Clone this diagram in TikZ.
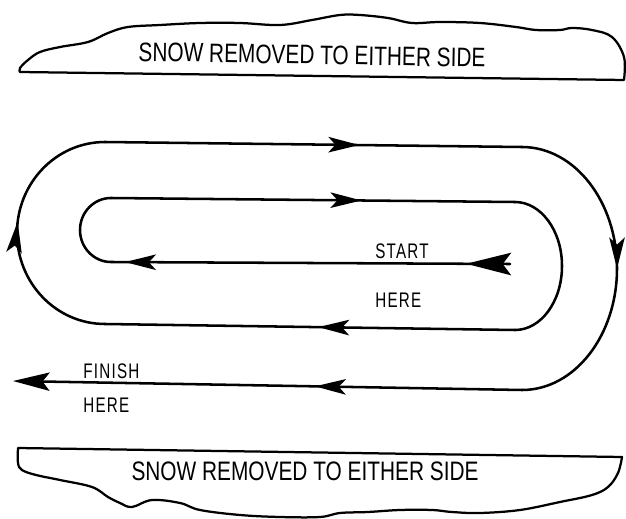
\documentclass[tikz,border=0pt]{standalone}
\usepackage{fontspec}
\setmainfont{Liberation Sans}
\newfontfamily\snowfont{Liberation Sans}[FakeStretch=0.78]
\newfontfamily\signfont{Liberation Sans}[FakeStretch=0.72,LetterSpace=6]
\usetikzlibrary{arrows.meta,decorations.markings}

\tikzset{
  route/.style={line width=1.8pt, line cap=round},
  pile/.style={line width=1.6pt, line join=round},
  flow/.style={postaction={decorate, decoration={markings,
      mark=at position #1 with {\arrow{Stealth[length=22pt,width=11pt,inset=5pt]}}}}},
  startflow/.style={postaction={decorate, decoration={markings,
      mark=at position #1 with {\arrow{Stealth[length=32pt,width=16pt,inset=6pt]}}}}},
  sign/.style={inner sep=0pt, anchor=west, font=\signfont\fontsize{15pt}{15pt}\selectfont},
  snowlabel/.style={inner sep=0pt, font=\snowfont\fontsize{19pt}{19pt}\selectfont},
}

\begin{document}
\begin{tikzpicture}[x=0.025cm, y=0.025cm]
\useasboundingbox (0,0) rectangle (626,-519);

% snow pile, upper side
\draw [pile] (20,-72) -- (624,-80) -- plot [smooth, tension=0.6] coordinates {
    (624,-80) (624,-57) (612,-37) (592,-30) (572,-28) (560,-30) (536,-30)
    (516,-27) (480,-23) (440,-22) (412,-23) (388,-18) (360,-15) (340,-15)
    (312,-20) (280,-25) (240,-23) (200,-23) (160,-25) (128,-27) (108,-33)
    (88,-42) (60,-47) (40,-52) (28,-60) (20,-68) (20,-72)} -- cycle;
\node [snowlabel, rotate=-1] (snowtop) at (312,-55) {SNOW REMOVED TO EITHER SIDE};

% snow pile, lower side
\draw [pile] (18,-448) -- (622,-457) -- plot [smooth, tension=0.6] coordinates {
    (622,-457) (618,-473) (608,-487) (592,-495) (560,-502) (520,-510)
    (480,-513) (452,-512) (432,-510) (400,-510) (368,-512) (340,-513)
    (320,-517) (280,-517) (240,-515) (200,-510) (180,-503) (152,-500)
    (132,-507) (120,-503) (108,-497) (92,-487) (60,-480) (36,-475)
    (22,-470) (18,-463) (18,-448)} -- cycle;
\node [snowlabel] (snowbot) at (305,-471) {SNOW REMOVED TO EITHER SIDE};

% inner loop
\draw [route, startflow=0.11, flow=0.965] (510,-264) -- (111,-262);
\draw [route] (111,-262) arc [start angle=270, end angle=90, x radius=31, y radius=32];
\draw [route, flow=0.62] (111,-198) -- (515,-202);
\draw [route] (515,-202) arc [start angle=90, end angle=-90, x radius=47, y radius=64];

% outer loop
\draw [route, flow=0.48] (515,-330) -- (105,-324);
\draw [route, flow=0.54] (105,-324) arc [start angle=270, end angle=90, x radius=88, y radius=91];
\draw [route, flow=0.61] (105,-142) -- (522,-147);
\draw [route, flow=0.5] (522,-147) arc [start angle=90, end angle=-90, x radius=95, y radius=121.5];
\draw [route, flow=0.407, -{Stealth[length=26pt,width=13pt,inset=5pt]}] (522,-390) -- (13,-381);

% labels
\node [sign] (start) at (375,-251) {START};
\node [sign] (starthere) at (375,-300) {HERE};
\node [sign] (finish) at (83,-371) {FINISH};
\node [sign] (finishhere) at (83,-405) {HERE};

\end{tikzpicture}
\end{document}
